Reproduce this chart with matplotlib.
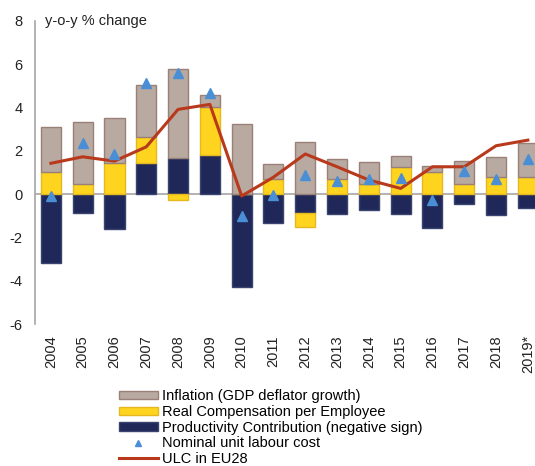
import numpy as np
import matplotlib
matplotlib.use("Agg")
from matplotlib import pyplot as plt

years = ["2004", "2005", "2006", "2007", "2008", "2009", "2010", "2011",
         "2012", "2013", "2014", "2015", "2016", "2017", "2018", "2019*"]
productivity = [-3.17, -0.89, -1.63, 1.42, 1.65, 1.80, -4.28, -1.35,
                -0.89, -0.92, -0.74, -0.92, -1.59, -0.46, -0.98, -0.66]
real_comp = [1.02, 0.45, 1.42, 1.23, -0.28, 2.23, 0.0, 0.69,
             -0.62, 0.68, 0.45, 1.26, 1.03, 0.45, 0.80, 0.80]
inflation = [2.09, 2.86, 2.08, 2.38, 4.11, 0.56, 3.23, 0.68,
             2.39, 0.92, 1.04, 0.49, 0.26, 1.09, 0.89, 1.54]
nominal_ulc = [-0.10, 2.37, 1.85, 5.14, 5.57, 4.65, -1.02, -0.05,
               0.88, 0.60, 0.68, 0.72, -0.28, 1.08, 0.69, 1.60]
ulc_eu28 = [1.42, 1.72, 1.52, 2.18, 3.91, 4.14, -0.09, 0.78,
            1.85, 1.26, 0.65, 0.26, 1.26, 1.26, 2.23, 2.49]

plt.rcParams["font.family"] = ["Liberation Sans", "DejaVu Sans"]
plt.rcParams["font.size"] = 10.5
plt.rcParams["axes.unicode_minus"] = False

fig = plt.figure(figsize=(5.35, 4.66), dpi=100)
ax = fig.add_axes([0.0654, 0.3047, 0.951, 0.6507])

x = np.arange(len(years))
w = 0.63
pos_base = np.zeros(len(years))
neg_base = np.zeros(len(years))
series = [
    (productivity, "#1F2858", "#3A4470", "Productivity Contribution (negative sign)"),
    (real_comp, "#FFD41F", "#E5B820", "Real Compensation per Employee"),
    (inflation, "#B8AAA1", "#9A8178", "Inflation (GDP deflator growth)"),
]
handles = {}
for vals, fc, ec, lab in series:
    v = np.array(vals)
    bottoms = np.where(v >= 0, pos_base, neg_base)
    b = ax.bar(x, v, w, bottom=bottoms, color=fc, edgecolor=ec, linewidth=1.0,
               label=lab, zorder=2)
    handles[lab] = b
    pos_base = pos_base + np.where(v >= 0, v, 0)
    neg_base = neg_base + np.where(v < 0, v, 0)

tri, = ax.plot(x, nominal_ulc, linestyle="none", marker="^", markersize=7.5,
               color="#4A8ED6", label="Nominal unit labour cost", zorder=4)
line, = ax.plot(x, ulc_eu28, color="#B8391C", linewidth=2.2,
                label="ULC in EU28", zorder=3)

ax.axhline(0, color="#A6A6A6", linewidth=1.2, zorder=1)
ax.set_xlim(-0.5, len(years) - 0.5)
ax.set_ylim(-6, 8)
ax.set_yticks(range(-6, 9, 2))
ax.set_xticks(x)
ax.set_xticklabels(years, rotation=90)
ax.tick_params(axis="both", length=0, labelsize=10.5, colors="#222222")
ax.tick_params(axis="y", pad=9)
ax.tick_params(axis="x", pad=8)
for s in ["top", "right", "bottom"]:
    ax.spines[s].set_visible(False)
ax.spines["left"].set_color("#A6A6A6")
ax.spines["left"].set_linewidth(1.2)

ax.text(0.02, 1.0, "y-o-y % change", transform=ax.transAxes, ha="left",
        va="center", fontsize=10.5, color="#222222")

order = ["Inflation (GDP deflator growth)", "Real Compensation per Employee",
         "Productivity Contribution (negative sign)"]
fig.legend([handles[k] for k in order] + [tri, line],
           order + ["Nominal unit labour cost", "ULC in EU28"],
           loc="upper left", bbox_to_anchor=(0.222, 0.165), frameon=False,
           fontsize=10.5, handlelength=2.7, handleheight=0.5,
           handletextpad=0.25, labelspacing=0.12, borderaxespad=0,
           borderpad=0, markerscale=0.6)

fig.savefig("out.png", dpi=100)
